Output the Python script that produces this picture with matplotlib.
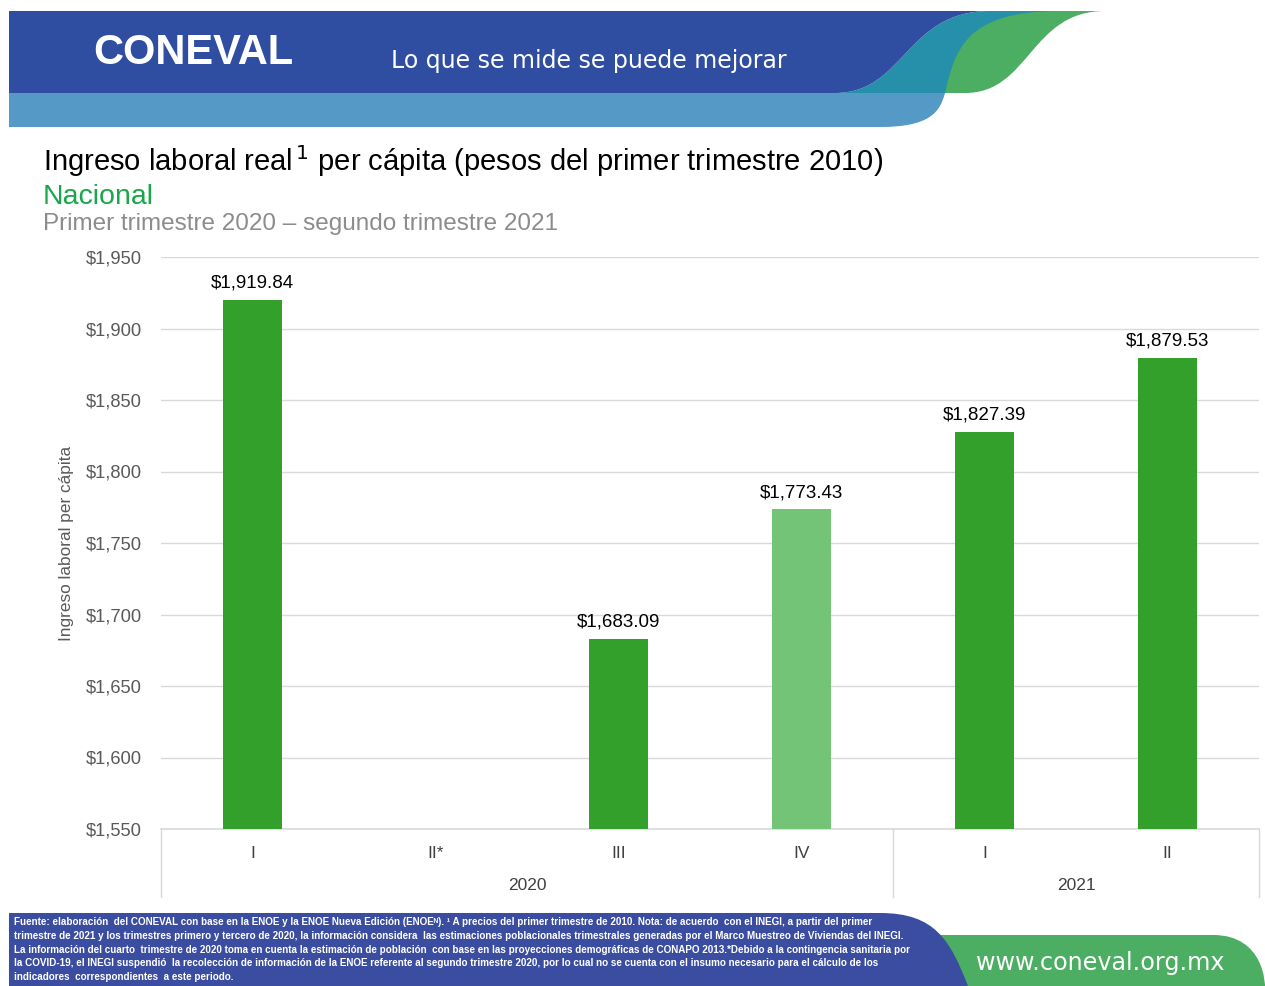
import matplotlib
matplotlib.use("Agg")
import matplotlib.pyplot as plt
from matplotlib.path import Path
from matplotlib.patches import PathPatch
from matplotlib.transforms import blended_transform_factory
import numpy as np

# data
quarters = ["I", "II*", "III", "IV", "I", "II"]
years = ["2020", "2021"]
year_spans = [(0, 3), (4, 5)]          # first / last quarter index of each year
ingreso = [1919.84, np.nan, 1683.09, 1773.43, 1827.39, 1879.53]
bar_colors = ["#33A02C", "#33A02C", "#33A02C", "#73C476", "#33A02C", "#33A02C"]

W, H = 1265, 986
fig = plt.figure(figsize=(W / 100, H / 100), dpi=100)

arial = ["Liberation Sans", "DejaVu Sans"]

# background layer in pixel coords (header / footer decoration)
bg = fig.add_axes([0, 0, 1, 1], zorder=0)
bg.set_xlim(0, W)
bg.set_ylim(H, 0)
bg.axis("off")


def shape(verts, codes, color):
    bg.add_patch(PathPatch(Path(verts, codes), facecolor=color, edgecolor="none"))


M, L, C, Z = Path.MOVETO, Path.LINETO, Path.CURVE4, Path.CLOSEPOLY

# green wave
shape([(1040, 11), (1105, 11), (1030, 11), (1030, 93), (965, 93), (940, 93),
       (955, 60), (960, 11), (1040, 11), (1040, 11)],
      [M, L, C, C, C, L, C, C, C, Z], "#4BAE62")
# teal wave
shape([(990, 11), (1060, 11), (965, 11), (955, 50), (945, 93), (835, 93),
       (905, 93), (905, 11), (990, 11), (990, 11)],
      [M, L, C, C, C, L, C, C, C, Z], "#2690AB")
# dark blue band
shape([(9, 11), (990, 11), (905, 11), (905, 93), (835, 93), (9, 93), (9, 11)],
      [M, L, C, C, C, L, Z], "#2F4EA1")
# light blue band
shape([(9, 93), (945, 93), (940, 112), (930, 127), (880, 127), (9, 127), (9, 93)],
      [M, L, C, C, C, L, Z], "#5599C6")

bg.text(193, 53, "CONEVAL", color="white", fontsize=30, fontweight="heavy",
        family=arial, ha="center", va="center")
bg.text(391, 61, "Lo que se mide se puede mejorar", color="white", fontsize=17,
        family=["DejaVu Sans"], ha="left", va="center")

# footer
shape([(870, 935), (1213, 935), (1265, 935), (1265, 986), (1265, 986),
       (870, 986), (870, 935)],
      [M, L, C, C, C, L, Z], "#4BAE62")
shape([(9, 913), (880, 913), (935, 913), (950, 940), (968, 986), (9, 986), (9, 913)],
      [M, L, C, C, C, L, Z], "#3B4DA0")

footer = [
    "Fuente: elaboración  del CONEVAL con base en la ENOE y la ENOE Nueva Edición (ENOEᴺ). ¹ A precios del primer trimestre de 2010. Nota: de acuerdo  con el INEGI, a partir del primer",
    "trimestre de 2021 y los trimestres primero y tercero de 2020, la información considera  las estimaciones poblacionales trimestrales generadas por el Marco Muestreo de Viviendas del INEGI.",
    "La información del cuarto  trimestre de 2020 toma en cuenta la estimación de población  con base en las proyecciones demográficas de CONAPO 2013.*Debido a la contingencia sanitaria por",
    "la COVID-19, el INEGI suspendió  la recolección de información de la ENOE referente al segundo trimestre 2020, por lo cual no se cuenta con el insumo necesario para el cálculo de los",
    "indicadores  correspondientes  a este periodo.",
]
for i, line in enumerate(footer):
    bg.text(14, 922 + i * 13.8, line, color="white", fontsize=7.1, fontweight="bold",
            family=arial, ha="left", va="center")
bg.text(1100, 963, "www.coneval.org.mx", color="white", fontsize=17.2,
        family=["DejaVu Sans"], ha="center", va="center")

# titles
bg.text(43, 161, "Ingreso laboral real$^{\\,1}$ per cápita (pesos del primer trimestre 2010)",
        fontsize=21, family=arial, color="black", ha="left", va="center")
bg.text(43, 197, "Nacional", fontsize=20.5, family=arial, color="#1AA64A",
        ha="left", va="center")
bg.text(43, 224, "Primer trimestre 2020 – segundo trimestre 2021", fontsize=17.5,
        family=arial, color="#8C8C8C", ha="left", va="center")

# chart
ax = fig.add_axes([161 / W, 1 - 829 / H, 1098 / W, 572 / H], zorder=1)
ax.patch.set_alpha(0)
x = np.arange(len(quarters))
ax.bar(x, np.nan_to_num(np.array(ingreso) - 1550), bottom=1550, width=0.32,
       color=bar_colors, zorder=3)
for xi, v in zip(x, ingreso):
    if not np.isnan(v):
        ax.annotate(f"${v:,.2f}", (xi, v), xytext=(0, 6), textcoords="offset points",
                    ha="center", va="bottom", fontsize=13.5, family=arial)

ax.set_xlim(-0.5, len(quarters) - 0.5)
ax.set_ylim(1550, 1950)
ax.set_yticks(np.arange(1550, 1951, 50))
ax.set_yticklabels([f"${t:,.0f}" for t in np.arange(1550, 1951, 50)],
                   fontsize=13.2, family=arial, color="#595959")
ax.tick_params(axis="y", length=0, pad=14)
ax.grid(axis="y", color="#D9D9D9", linewidth=1, zorder=0)
for s in ["top", "right", "left"]:
    ax.spines[s].set_visible(False)
ax.spines["bottom"].set_color("#D9D9D9")
ax.spines["bottom"].set_linewidth(1.2)
ax.set_xticks(x)
ax.set_xticklabels(quarters, fontsize=12.5, family=arial, color="#404040")
ax.tick_params(axis="x", length=0, pad=12)
ax.set_ylabel("Ingreso laboral per cápita", fontsize=12.4, family=arial,
              color="#595959", labelpad=8)

# year groups under the quarter labels
trans = blended_transform_factory(ax.transData, ax.transAxes)
seps = [-0.5] + [e + 0.5 for _, e in year_spans]
for s in seps:
    ax.plot([s, s], [0, -68 / 572], transform=trans, color="#D9D9D9",
            linewidth=1, clip_on=False)
for yr, (a, b) in zip(years, year_spans):
    ax.text((a + b) / 2, -57 / 572, yr, transform=trans, ha="center", va="center",
            fontsize=12.5, family=arial, color="#404040")

fig.savefig("out.png", dpi=100)
